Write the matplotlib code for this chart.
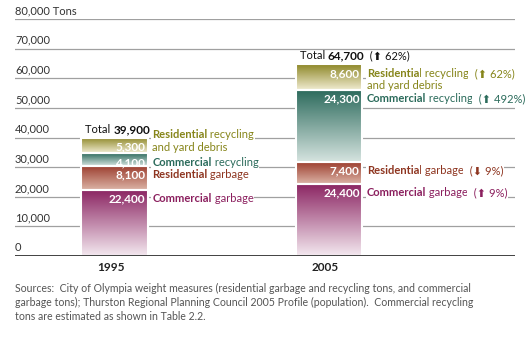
import numpy as np
import matplotlib
matplotlib.use("Agg")
import matplotlib.pyplot as plt
import matplotlib.transforms as mtransforms
from matplotlib.colors import LinearSegmentedColormap

plt.rcParams['font.family'] = ['Lato', 'DejaVu Sans']

# data
years = ['1995', '2005']
bold_words = ['Commercial', 'Residential', 'Commercial', 'Residential']
rest_words = [' garbage', ' garbage', ' recycling', ' recycling']
second_lines = ['', '', '', 'and yard debris']
tons_1995 = [22400, 8100, 4100, 5300]
tons_2005 = [24400, 7400, 24300, 8600]
change_2005 = ['\u2b06 9%', '\u2b07 9%', '\u2b06 492%', '\u2b06 62%']
total_change = '\u2b06 62%'
ytick_values = [0, 10000, 20000, 30000, 40000, 50000, 60000, 70000, 80000]
ytick_labels = ['0', '10,000', '20,000', '30,000', '40,000', '50,000', '60,000', '70,000', '80,000 Tons']
source_text = ("Sources:  City of Olympia weight measures (residential garbage and recycling tons, and commercial\n"
               "garbage tons); Thurston Regional Planning Council 2005 Profile (population).  Commercial recycling\n"
               "tons are estimated as shown in Table 2.2.")

# styling
top_colors = ['#8a2361', '#9d4030', '#2d6b5d', '#8d8727']
bottom_colors = ['#f4e9f0', '#dcb4a7', '#d6e4e0', '#f1ecd2']
text_colors = ['#8b1f5e', '#8e3520', '#2b6b5b', '#86851a']

fig = plt.figure(figsize=(5.25, 3.53), dpi=100)
ax = fig.add_axes([15 / 525, 97 / 353, 500 / 525, 237 / 353])
ax.set_xlim(-0.464, 1.867)
ax.set_ylim(0, 80000)
for s in ax.spines.values():
    s.set_visible(False)
ax.set_yticks([])
ax.set_xticks([0, 1])
ax.set_xticklabels(years, fontweight='bold', fontsize=8.5, color='#222222')
ax.tick_params(axis='x', length=0, pad=4)
shift = mtransforms.ScaledTranslation(-4 / 100, 0, fig.dpi_scale_trans)
for lab in ax.get_xticklabels():
    lab.set_transform(lab.get_transform() + shift)

# gridlines + labels
for v, lab in zip(ytick_values, ytick_labels):
    if v == 0:
        ax.axhline(v, color='#333333', lw=1.3, zorder=6)
    else:
        ax.axhline(v, color='#a0a0a0', lw=0.9, zorder=0)
    ax.annotate(lab, xy=(0, v), xycoords=('axes fraction', 'data'), xytext=(0, 2),
                textcoords='offset points', ha='left', va='bottom', fontsize=8, color='#333333')

ramp = np.linspace(0, 1, 256).reshape(-1, 1)
width = 0.312
bar_box = dict(fc='white', ec='none', pad=0.6)

for i, vals in enumerate([tons_1995, tons_2005]):
    bottoms = np.concatenate([[0], np.cumsum(vals)[:-1]])
    bars = ax.bar([i] * len(vals), vals, width=width, bottom=bottoms,
                  facecolor='none', edgecolor='white', linewidth=1.5, zorder=4)
    for j, rect in enumerate(bars):
        x0, y0 = rect.get_x(), rect.get_y()
        x1, y1 = x0 + rect.get_width(), y0 + rect.get_height()
        cmap = LinearSegmentedColormap.from_list('g%d' % j, [bottom_colors[j], top_colors[j]])
        im = ax.imshow(ramp, cmap=cmap, extent=(x0, x1, y0, y1), origin='lower',
                       aspect='auto', zorder=3, interpolation='bilinear')
        im.set_clip_path(rect)

        # value inside bar
        ax.annotate(f'{vals[j]:,}', xy=(x1, y1), xytext=(-2, -6.5), textcoords='offset points',
                    ha='right', va='center', color='white', fontweight='bold', fontsize=8.5, zorder=7)

        # category label (white box hides the gridlines, sits under the bars)
        dy = -6.5
        if i == 0 and second_lines[j]:
            dy = 2.2
        t = ax.annotate(bold_words[j], xy=(x1, y1), xytext=(3, dy), textcoords='offset points',
                        ha='left', va='center', color=text_colors[j], fontweight='bold',
                        fontsize=8, bbox=bar_box, zorder=2)
        t2 = ax.annotate(rest_words[j], xy=(1, 0), xycoords=t, ha='left', va='bottom',
                         color=text_colors[j], fontsize=8, bbox=bar_box, zorder=2)
        if i == 1:
            ax.annotate('  (' + change_2005[j] + ')', xy=(1, 0), xycoords=t2, ha='left', va='bottom',
                        color=text_colors[j], fontsize=8, bbox=bar_box, zorder=2)
        if second_lines[j]:
            ax.annotate(second_lines[j], xy=(0, 0), xycoords=t, xytext=(0, -1), textcoords='offset points',
                        ha='left', va='top', color=text_colors[j], fontsize=8, bbox=bar_box, zorder=2)

    # total above bar
    total = sum(vals)
    tt = ax.annotate('Total ', xy=(bars[0].get_x(), total), xytext=(3, 6), textcoords='offset points',
                     ha='left', va='center', fontsize=8, color='#111111')
    tb = ax.annotate(f'{total:,}', xy=(1, 0), xycoords=tt, ha='left', va='bottom',
                     fontsize=8.5, fontweight='bold', color='#111111')
    if i == 1:
        ax.annotate('  (' + total_change + ')', xy=(1, 0), xycoords=tb, ha='left', va='bottom',
                    fontsize=8, color='#111111')

fig.text(15 / 525, 1 - 283 / 353, source_text, ha='left', va='top', fontsize=7.6,
         color='#555555', linespacing=1.3)

fig.savefig('out.png', dpi=100)
